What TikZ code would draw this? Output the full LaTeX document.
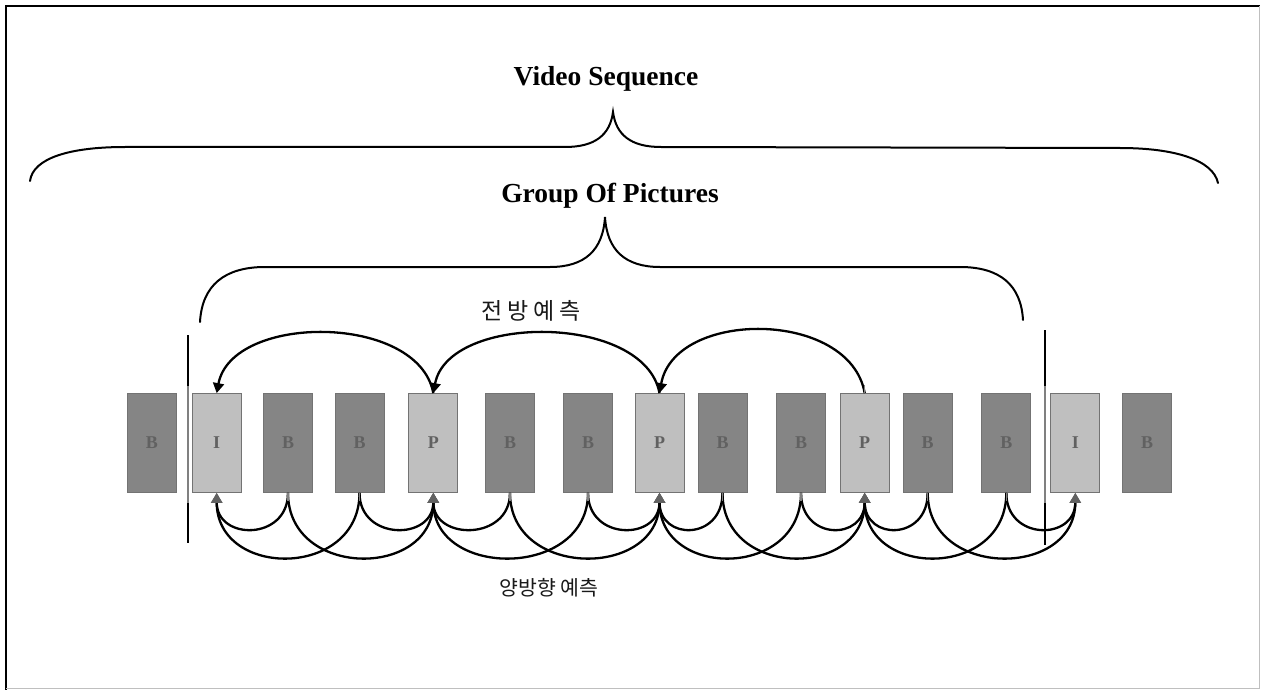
\documentclass[tikz,border=0pt]{standalone}
\usepackage{fontspec}
\setmainfont{Liberation Serif}
\newfontfamily\kr{Noto Sans CJK KR}
\newfontfamily\krwide[LetterSpace=22]{Noto Sans CJK KR}
\usetikzlibrary{arrows.meta}
\tikzset{
  darkbox/.style={draw=black!55, line width=0.8pt, fill=black!48, minimum width=49pt, minimum height=99pt, inner sep=0pt, text=black!62, font=\fontsize{18}{18}\selectfont\bfseries},
  lightbox/.style={draw=black!55, line width=0.8pt, fill=black!25, minimum width=49pt, minimum height=99pt, inner sep=0pt, text=black!62, font=\fontsize{18}{18}\selectfont\bfseries},
  bracepath/.style={draw=black, line width=2pt, line cap=round},
  title/.style={font=\fontsize{27.5}{30}\selectfont\bfseries, inner sep=0pt},
  krlabel/.style={inner sep=0pt, text=black!90},
  bidi/.style={draw=black, line width=2.3pt, -{Triangle[length=10pt,width=11pt,color=black!62]}},
  fwd/.style={draw=black, line width=2.3pt, -{Triangle[length=10pt,width=11pt]}},
  stub/.style={draw=black!50, line width=1.4pt},
  gopline/.style={draw=black, line width=1.8pt},
}
\begin{document}
\begin{tikzpicture}[x=1pt,y=-1pt]
\useasboundingbox (0,0) rectangle (1261,690);
% outer frame
\draw[black, line width=2pt] (6,690) -- (6,6) -- (1260,6);
\draw[black!25, line width=1pt] (1259,6) -- (1259,688) -- (6,688);

% titles
\node[title] (vs) at (606,79) {Video Sequence};
\node[title] (gop) at (610,196) {Group Of Pictures};

% braces
\draw[bracepath] (30,181) .. controls (33,158) and (70,147) .. (125,147) -- (565,147)
  .. controls (595,147) and (610,135) .. (613,112)
  .. controls (616,135) and (631,147) .. (661,147) -- (1120,148)
  .. controls (1175,148) and (1213,160) .. (1218,183);
\draw[bracepath] (200,322) .. controls (202,285) and (225,267) .. (265,267) -- (550,267)
  .. controls (585,267) and (603,250) .. (605,217)
  .. controls (607,250) and (625,267) .. (660,267) -- (960,267)
  .. controls (1000,267) and (1021,285) .. (1023,320);

% GOP boundary lines
\coordinate (gl1) at (188,335);
\coordinate (gl2) at (188,543);
\coordinate (gr1) at (1045,330);
\coordinate (gr2) at (1045,545);
\draw[gopline] (gl1) -- (gl2);
\draw[gopline] (gr1) -- (gr2);
\draw[black!50, line width=1.8pt] (188,386) -- (188,503);
\draw[black!50, line width=1.8pt] (1045,386) -- (1045,503);

% frames
\node[darkbox]  (b0)  at (152,443)   {B};
\node[lightbox] (i1)  at (216.7,443) {I};
\node[darkbox]  (b2)  at (288,443)   {B};
\node[darkbox]  (b3)  at (359.5,443) {B};
\node[lightbox] (p1)  at (433.3,443) {P};
\node[darkbox]  (b4)  at (510,443)   {B};
\node[darkbox]  (b5)  at (588,443)   {B};
\node[lightbox] (p2)  at (659.5,443) {P};
\node[darkbox]  (b6)  at (722.5,443) {B};
\node[darkbox]  (b7)  at (801,443)   {B};
\node[lightbox] (p3)  at (864.7,443) {P};
\node[darkbox]  (b8)  at (927.7,443) {B};
\node[darkbox]  (b9)  at (1006.3,443){B};
\node[lightbox] (i2)  at (1075.3,443){I};
\node[darkbox]  (b10) at (1147,443)  {B};

% forward prediction arcs
\draw[fwd] (p1.north) .. controls +(-15,-80) and +(15,-80) .. (i1.north);
\draw[fwd] (p2.north) .. controls +(-15,-80) and +(15,-80) .. (p1.north);
\draw[fwd] (p3.north) .. controls +(-15,-84) and +(15,-84) .. (p2.north);
\node[krlabel, font=\krwide\fontsize{23}{25}\selectfont] (fl) at (531,311) {전방예측};

% bidirectional prediction arcs
\draw[bidi] (b2.south) .. controls +(0,48) and +(0,48) .. (i1.south);
\draw[bidi] (b2.south) .. controls +(0,86) and +(0,86) .. (p1.south);
\draw[bidi] (b3.south) .. controls +(0,86) and +(0,86) .. (i1.south);
\draw[bidi] (b3.south) .. controls +(0,48) and +(0,48) .. (p1.south);
\draw[bidi] (b4.south) .. controls +(0,48) and +(0,48) .. (p1.south);
\draw[bidi] (b4.south) .. controls +(0,86) and +(0,86) .. (p2.south);
\draw[bidi] (b5.south) .. controls +(0,86) and +(0,86) .. (p1.south);
\draw[bidi] (b5.south) .. controls +(0,48) and +(0,48) .. (p2.south);
\draw[bidi] (b6.south) .. controls +(0,48) and +(0,48) .. (p2.south);
\draw[bidi] (b6.south) .. controls +(0,86) and +(0,86) .. (p3.south);
\draw[bidi] (b7.south) .. controls +(0,86) and +(0,86) .. (p2.south);
\draw[bidi] (b7.south) .. controls +(0,48) and +(0,48) .. (p3.south);
\draw[bidi] (b8.south) .. controls +(0,48) and +(0,48) .. (p3.south);
\draw[bidi] (b8.south) .. controls +(0,86) and +(0,86) .. (i2.south);
\draw[bidi] (b9.south) .. controls +(0,86) and +(0,86) .. (p3.south);
\draw[bidi] (b9.south) .. controls +(0,48) and +(0,48) .. (i2.south);
\foreach \n in {b2,b3,b4,b5,b6,b7,b8,b9} \draw[stub] (\n.south) -- ++(0,8);
\draw[stub] (p3.north) -- ++(0,-8);
\node[krlabel, font=\kr\fontsize{20.5}{22}\selectfont] (bl) at (549,588) {양방향 예측};
\end{tikzpicture}
\end{document}
